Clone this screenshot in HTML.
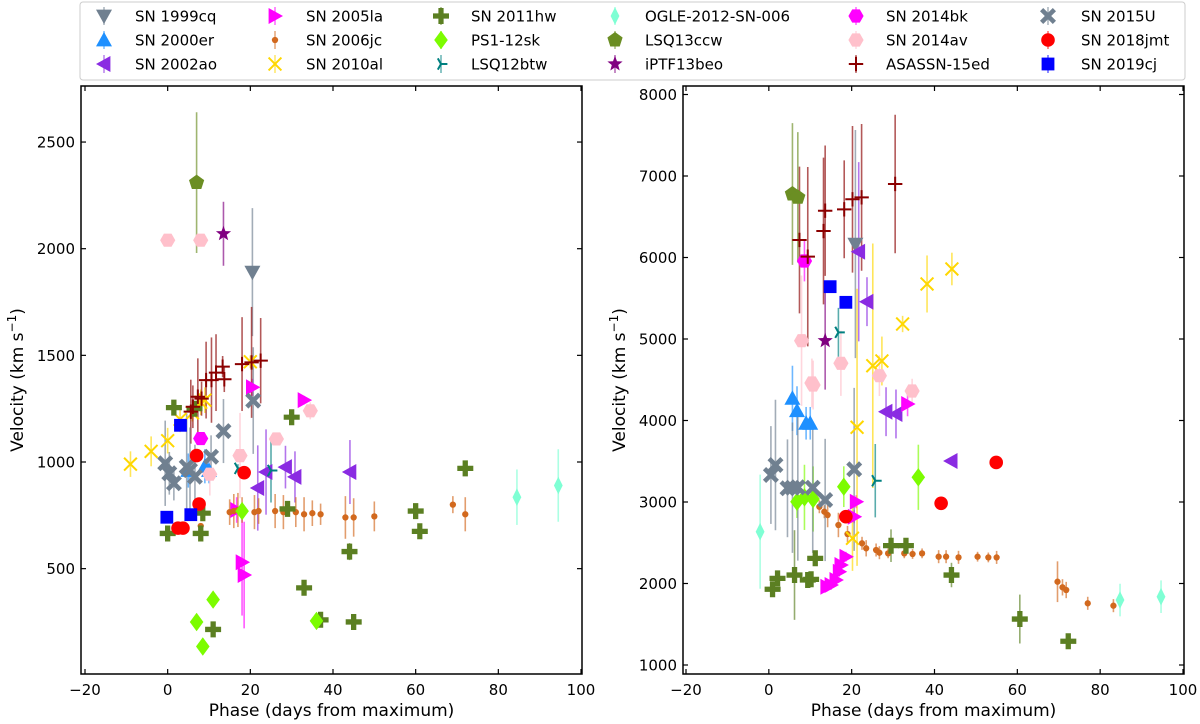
<!DOCTYPE html>
<html><head><meta charset="utf-8"><style>
body{margin:0;background:#fff;}
svg{display:block;font-family:"DejaVu Sans","Liberation Sans",sans-serif;}
</style></head><body>
<svg id="chart" width="1200" height="724" viewBox="0 0 1200 724" xmlns="http://www.w3.org/2000/svg"></svg>
<script>
// ---------- data (phase, velocity, error) ----------
const L_1999cq_x=[20.5], L_1999cq_y=[1890], L_1999cq_e=[300];
const R_1999cq_x=[20.9], R_1999cq_y=[6165], R_1999cq_e=[1400];
const L_2000er_x=[5,9,10], L_2000er_y=[960,980,960], L_2000er_e=[80,80,60];
const R_2000er_x=[5.7,6.8,9.0,10.0], R_2000er_y=[4272,4120,3966,3966], R_2000er_e=[400,300,200,200];
const L_2002ao_x=[21.8,23.8,28.5,30.8,44.1], L_2002ao_y=[878,953,976,930,953], L_2002ao_e=[200,200,100,120,150];
const R_2002ao_x=[21.7,23.7,28.3,30.7,44], R_2002ao_y=[6071,5458,4108,4080,3503], R_2002ao_e=[1100,300,300,300,0];
const L_2005la_x=[16.7,18,18.5,20.5,33], L_2005la_y=[775,530,470,1350,1290], L_2005la_e=[60,250,250,40,20];
const R_2005la_x=[14.0,15.0,16.2,17.0,17.4,18.6,20.6,21.1,33.5], R_2005la_y=[1961,1982,2043,2145,2227,2329,2820,3004,4202], R_2005la_e=[60,60,60,60,60,60,80,80,150];
const L_2006jc_x=[8,15,16,17,18,21,22,26,28,31,33,35,37,43,45,50,69,72], L_2006jc_y=[700,765,770,775,775,765,770,770,765,765,755,760,755,740,740,745,800,755], L_2006jc_e=[0,60,80,80,60,80,60,80,80,70,80,60,50,100,90,70,40,80];
const R_2006jc_x=[12.2,13.4,14.2,16.8,19.0,22.5,23.5,25.9,26.7,28.8,32.7,34.7,37,41,42.8,45.8,50.4,53,55,69.7,70.9,71.8,77,83.2], R_2006jc_y=[2942,2881,2840,2718,2607,2493,2432,2411,2378,2370,2370,2362,2370,2329,2329,2321,2329,2320,2320,2022,1953,1920,1757,1728], R_2006jc_e=[80,80,150,150,100,80,100,80,80,60,60,60,60,80,80,80,60,60,80,250,100,100,80,80];
const L_2010al_x=[-9,-4,0,3,6,8,9,20], L_2010al_y=[990,1050,1100,1200,1230,1280,1290,1470], L_2010al_e=[60,70,60,60,40,60,60,30];
const R_2010al_x=[20.2,21.3,25.1,27.3,32.3,38.2,44.2], R_2010al_y=[2555,3917,4672,4730,5184,5675,5859], R_2010al_e=[400,1700,1500,300,100,350,200];
const L_2011hw_x=[0,1.5,6.5,8,8.5,11,29,30,33,37,44,45,60,61,72], L_2011hw_y=[665,1255,1250,665,760,215,780,1210,410,260,580,250,770,675,970], L_2011hw_e=[20,20,20,20,20,20,20,20,20,20,40,20,20,20,20];
const R_2011hw_x=[0.9,2.1,6.2,9.4,10.2,11.2,29.5,33.1,44.1,60.6,72.3], R_2011hw_y=[1929,2063,2104,2043,2051,2309,2464,2464,2104,1564,1291], R_2011hw_e=[80,80,550,80,80,80,200,80,150,300,60];
const L_ps1_x=[7,8.5,11,18,36], L_ps1_y=[250,135,355,770,255], L_ps1_e=[0,0,0,0,0];
const R_ps1_x=[6.8,8.6,10.7,18.1,36.1], R_ps1_y=[3004,3057,3037,3188,3303], R_ps1_e=[200,400,400,250,400];
const L_btw_x=[17,25], L_btw_y=[970,960], L_btw_e=[20,150];
const R_btw_x=[16.8,25.7], R_btw_y=[5082,3261], R_btw_e=[300,450];
const L_ogle_x=[84.5,94.5], L_ogle_y=[835,890], L_ogle_e=[130,170];
const R_ogle_x=[-2.1,84.8,94.7], R_ogle_y=[2636,1797,1838], R_ogle_e=[700,200,200];
const L_ccw_x=[7], L_ccw_y=[2310], L_ccw_e=[330];
const R_ccw_x=[5.7,7.0], R_ccw_y=[6779,6738], R_ccw_e=[870,800];
const L_beo_x=[13.5], L_beo_y=[2070], L_beo_e=[150];
const R_beo_x=[13.6], R_beo_y=[4979], R_beo_e=[600];
const L_14bk_x=[8], L_14bk_y=[1110], L_14bk_e=[30];
const R_14bk_x=[8.6], R_14bk_y=[5957], R_14bk_e=[250];
const L_14av_x=[0,8,10.2,17.5,26.3,34.5], L_14av_y=[2040,2040,943,1030,1108,1240], L_14av_e=[0,0,100,200,0,40];
const R_14av_x=[7.9,10.4,10.7,17.4,26.7,34.6], R_14av_y=[4979,4460,4435,4702,4550,4362], R_14av_e=[800,300,300,400,250,150];
const L_asn_x=[5.6,6.1,7.3,8.2,9.3,10.6,11.7,13.3,13.7,18,20.3,22.5], L_asn_y=[1236,1259,1306,1297,1384,1384,1419,1447,1388,1459,1467,1475], L_asn_e=[150,100,180,80,180,200,180,50,60,220,260,200];
const R_asn_x=[7.4,9.4,13.2,13.6,18.2,20.2,22.4,30.5], R_asn_y=[6215,6010,6325,6574,6591,6714,6738,6902], R_asn_e=[900,1100,900,800,600,900,900,850];
const L_15U_x=[-0.6,0.4,1.5,4.6,5.4,6.6,10.5,13.5,20.7], L_15U_y=[994,947,900,978,962,931,1025,1145,1288], L_15U_e=[200,100,80,250,200,150,100,150,250];
const R_15U_x=[0.5,1.6,4.5,5.7,7.0,10.6,13.6,20.6], R_15U_y=[3331,3454,3168,3176,3180,3176,3025,3401], R_15U_e=[600,800,600,800,900,800,750,1000];
const L_jmt_x=[2.5,3.7,7,7.6,18.5], L_jmt_y=[690,690,1030,803,950], L_jmt_e=[0,0,0,0,0];
const R_jmt_x=[18.6,41.6,54.9], R_jmt_y=[2820,2984,3485], R_jmt_e=[0,0,0];
const L_19cj_x=[-0.2,3.1,5.6], L_19cj_y=[741,1172,753], L_19cj_e=[0,0,0];
const R_19cj_x=[14.8,18.6], R_19cj_y=[5642,5450], R_19cj_e=[0,0];

const seriesNames=["SN 1999cq","SN 2000er","SN 2002ao","SN 2005la","SN 2006jc","SN 2010al","SN 2011hw","PS1-12sk","LSQ12btw","OGLE-2012-SN-006","LSQ13ccw","iPTF13beo","SN 2014bk","SN 2014av","ASASSN-15ed","SN 2015U","SN 2018jmt","SN 2019cj"];
const xTicks=[-20,0,20,40,60,80,100];
const yTicksL=[500,1000,1500,2000,2500];
const yTicksR=[1000,2000,3000,4000,5000,6000,7000,8000];

const styles=[
 ["#708090","tdown"],["#1e90ff","tup"],["#8a2be2","tleft"],["#ff00ff","tright"],["#d2691e","dot"],
 ["#ffd700","x"],["#5b7f22","P"],["#7cfc00","D"],["#008080","tri1"],["#7fffd4","d"],
 ["#6b8e23","pent"],["#800080","star"],["#ff00ff","hex"],["#ffc0cb","hex"],["#8b0000","plus"],
 ["#708090","X"],["#ff0000","circ"],["#0000ff","sq"]];
const dataL=[[L_1999cq_x,L_1999cq_y,L_1999cq_e],[L_2000er_x,L_2000er_y,L_2000er_e],[L_2002ao_x,L_2002ao_y,L_2002ao_e],[L_2005la_x,L_2005la_y,L_2005la_e],[L_2006jc_x,L_2006jc_y,L_2006jc_e],[L_2010al_x,L_2010al_y,L_2010al_e],[L_2011hw_x,L_2011hw_y,L_2011hw_e],[L_ps1_x,L_ps1_y,L_ps1_e],[L_btw_x,L_btw_y,L_btw_e],[L_ogle_x,L_ogle_y,L_ogle_e],[L_ccw_x,L_ccw_y,L_ccw_e],[L_beo_x,L_beo_y,L_beo_e],[L_14bk_x,L_14bk_y,L_14bk_e],[L_14av_x,L_14av_y,L_14av_e],[L_asn_x,L_asn_y,L_asn_e],[L_15U_x,L_15U_y,L_15U_e],[L_jmt_x,L_jmt_y,L_jmt_e],[L_19cj_x,L_19cj_y,L_19cj_e]];
const dataR=[[R_1999cq_x,R_1999cq_y,R_1999cq_e],[R_2000er_x,R_2000er_y,R_2000er_e],[R_2002ao_x,R_2002ao_y,R_2002ao_e],[R_2005la_x,R_2005la_y,R_2005la_e],[R_2006jc_x,R_2006jc_y,R_2006jc_e],[R_2010al_x,R_2010al_y,R_2010al_e],[R_2011hw_x,R_2011hw_y,R_2011hw_e],[R_ps1_x,R_ps1_y,R_ps1_e],[R_btw_x,R_btw_y,R_btw_e],[R_ogle_x,R_ogle_y,R_ogle_e],[R_ccw_x,R_ccw_y,R_ccw_e],[R_beo_x,R_beo_y,R_beo_e],[R_14bk_x,R_14bk_y,R_14bk_e],[R_14av_x,R_14av_y,R_14av_e],[R_asn_x,R_asn_y,R_asn_e],[R_15U_x,R_15U_y,R_15U_e],[R_jmt_x,R_jmt_y,R_jmt_e],[R_19cj_x,R_19cj_y,R_19cj_e]];

const NS="http://www.w3.org/2000/svg";
const svg=document.getElementById('chart');
function mk(tag,attrs,parent){const e=document.createElementNS(NS,tag);for(const k in attrs)e.setAttribute(k,attrs[k]);(parent||svg).appendChild(e);return e;}

function marker(g,type,color,cx,cy,s){
 let e;
 const poly=pts=>mk('polygon',{points:pts.map(p=>(cx+p[0]*s).toFixed(1)+','+(cy+p[1]*s).toFixed(1)).join(' '),fill:color},g);
 switch(type){
  case 'tdown':e=poly([[-1,-0.8],[1,-0.8],[0,1]]);break;
  case 'tup':e=poly([[-1,0.8],[1,0.8],[0,-1]]);break;
  case 'tleft':e=poly([[0.8,-1],[0.8,1],[-1,0]]);break;
  case 'tright':e=poly([[-0.8,-1],[-0.8,1],[1,0]]);break;
  case 'dot':e=mk('circle',{cx:cx,cy:cy,r:s*0.45,fill:color},g);break;
  case 'circ':e=mk('circle',{cx:cx,cy:cy,r:s*0.85,fill:color},g);break;
  case 'sq':e=mk('rect',{x:cx-s*0.8,y:cy-s*0.8,width:s*1.6,height:s*1.6,fill:color},g);break;
  case 'D':e=poly([[0,-1.15],[0.85,0],[0,1.15],[-0.85,0]]);break;
  case 'd':e=poly([[0,-1.1],[0.55,0],[0,1.1],[-0.55,0]]);break;
  case 'x':e=mk('path',{d:`M${cx-s*.8},${cy-s*.8}L${cx+s*.8},${cy+s*.8}M${cx-s*.8},${cy+s*.8}L${cx+s*.8},${cy-s*.8}`,stroke:color,'stroke-width':2,fill:'none'},g);break;
  case 'plus':e=mk('path',{d:`M${cx-s*.9},${cy}L${cx+s*.9},${cy}M${cx},${cy-s*.9}L${cx},${cy+s*.9}`,stroke:color,'stroke-width':2,fill:'none'},g);break;
  case 'P':e=poly([[-0.33,-1],[0.33,-1],[0.33,-0.33],[1,-0.33],[1,0.33],[0.33,0.33],[0.33,1],[-0.33,1],[-0.33,0.33],[-1,0.33],[-1,-0.33],[-0.33,-0.33]]);break;
  case 'X':e=poly([[-0.6,-1],[0,-0.4],[0.6,-1],[1,-0.6],[0.4,0],[1,0.6],[0.6,1],[0,0.4],[-0.6,1],[-1,0.6],[-0.4,0],[-1,-0.6]]);break;
  case 'tri1':e=mk('path',{d:`M${cx},${cy}L${cx+s*.8},${cy}M${cx},${cy}L${cx-s*.4},${cy-s*.7}M${cx},${cy}L${cx-s*.4},${cy+s*.7}`,stroke:color,'stroke-width':2,fill:'none'},g);break;
  case 'pent':{const p=[];for(let i=0;i<5;i++){const a=-Math.PI/2+i*2*Math.PI/5;p.push([Math.cos(a),Math.sin(a)]);}e=poly(p);break;}
  case 'hex':{const p=[];for(let i=0;i<6;i++){const a=i*Math.PI/3;p.push([Math.cos(a)*0.95,Math.sin(a)*0.95]);}e=poly(p);break;}
  case 'star':{const p=[];for(let i=0;i<10;i++){const a=-Math.PI/2+i*Math.PI/5,r=i%2?0.42:1;p.push([Math.cos(a)*r,Math.sin(a)*r]);}e=poly(p);break;}
 }
 return e;
}

function panel(id,px0,px1,py0,py1,xmin,xmax,ymin,ymax,yTicks,data){
 const sx=v=>px0+(v-xmin)/(xmax-xmin)*(px1-px0);
 const sy=v=>py1-(v-ymin)/(ymax-ymin)*(py1-py0);
 const g=mk('g',{});
 
 
 const clipId=id+'-clip';
 const cp=mk('clipPath',{id:clipId},g);mk('rect',{x:px0,y:py0,width:px1-px0,height:py1-py0},cp);
 const plot=mk('g',{'clip-path':`url(#${clipId})`},g);
 
 
 // error bars first
 data.forEach((d,si)=>{const [xs,ys,es]=d;const c=styles[si][0];
  xs.forEach((x,i)=>{if(es[i]>0){const l=mk('line',{x1:sx(x),x2:sx(x),y1:sy(ys[i]-es[i]),y2:sy(ys[i]+es[i]),stroke:c,'stroke-width':1.6,'stroke-opacity':0.65},plot);
   
   }});});
 data.forEach((d,si)=>{const [xs,ys]=d;const [c,t]=styles[si];
  xs.forEach((x,i)=>{const m=marker(plot,t,c,sx(x),sy(ys[i]),t==='dot'?7:8);
   
   });});
 const fr=mk('rect',{x:px0,y:py0,width:px1-px0,height:py1-py0,fill:'none',stroke:'#000','stroke-width':1.5},g);
 
 
 xTicks.forEach(v=>{const x=sx(v);
  mk('line',{x1:x,x2:x,y1:py1,y2:py1-5,stroke:'#000','stroke-width':1.2},g);
  mk('line',{x1:x,x2:x,y1:py0,y2:py0+5,stroke:'#000','stroke-width':1.2},g);
  const t=mk('text',{x:x,y:py1+21,'text-anchor':'middle','font-size':15,fill:'#000'},g);
  t.textContent=(v<0?'\u2212'+(-v):v);
  
  });
 yTicks.forEach(v=>{const y=sy(v);
  mk('line',{x1:px0,x2:px0+5,y1:y,y2:y,stroke:'#000','stroke-width':1.2},g);
  mk('line',{x1:px1,x2:px1-5,y1:y,y2:y,stroke:'#000','stroke-width':1.2},g);
  const t=mk('text',{x:px0-6,y:y+5.5,'text-anchor':'end','font-size':15,fill:'#000'},g);
  t.textContent=v;
  
  });
 const xl=mk('text',{x:(px0+px1)/2,y:py1+42,'text-anchor':'middle','font-size':17,fill:'#000'},g);
 xl.textContent='Phase (days from maximum)';
 
 
 const yx=px0-58, yy=(py0+py1)/2;
 const yl=mk('text',{x:yx,y:yy,'text-anchor':'middle','font-size':17,fill:'#000',transform:`rotate(-90 ${yx} ${yy})`},g);
 yl.innerHTML='Velocity (km s<tspan dy="-7" font-size="12">\u22121</tspan><tspan dy="7">)</tspan>';
 
 
}
// left: -20 -> 85, 100 -> 581 ; y: 0 -> 675.3, 2500 -> 142
panel('left-panel',81,582,86,674,-20-4/4.133,100+1/4.133,(675.3-674)/0.2133,(675.3-86)/0.2133,yTicksL,dataL);
// right: -20 -> 686, 100 -> 1183 ; y: 1000 -> 665, 0.0815 px per unit
panel('right-panel',683,1184,86,674,-20-3/4.142,100+1/4.142,1000-(674-665)/0.0815,1000+(665-86)/0.0815,yTicksR,dataR);

// legend
const lg=mk('g',{});


mk('rect',{x:80,y:2,width:1105,height:78,rx:3,fill:'#fff',stroke:'#ccc','stroke-width':1},lg);
const colMk=[104,275,441,615,856,1048], colTx=[135,306,471,645,886,1081], rowY=[16,40,64];
seriesNames.forEach((n,i)=>{const col=Math.floor(i/3),row=i%3;const [c,t]=styles[i];
 const y=rowY[row];
 const e=mk('g',{},lg);
 
 
 if(['x','plus','tri1'].indexOf(t)<0 || true){mk('line',{x1:colMk[col],x2:colMk[col],y1:y-9,y2:y+9,stroke:c,'stroke-width':1.5,'stroke-opacity':0.6},e);}
 marker(e,t,c,colMk[col],y,t==='dot'?7:8);
 const tx=mk('text',{x:colTx[col],y:y+5.5,'font-size':15,fill:'#000'},e);
 tx.textContent=n;});
</script>
</body></html>
